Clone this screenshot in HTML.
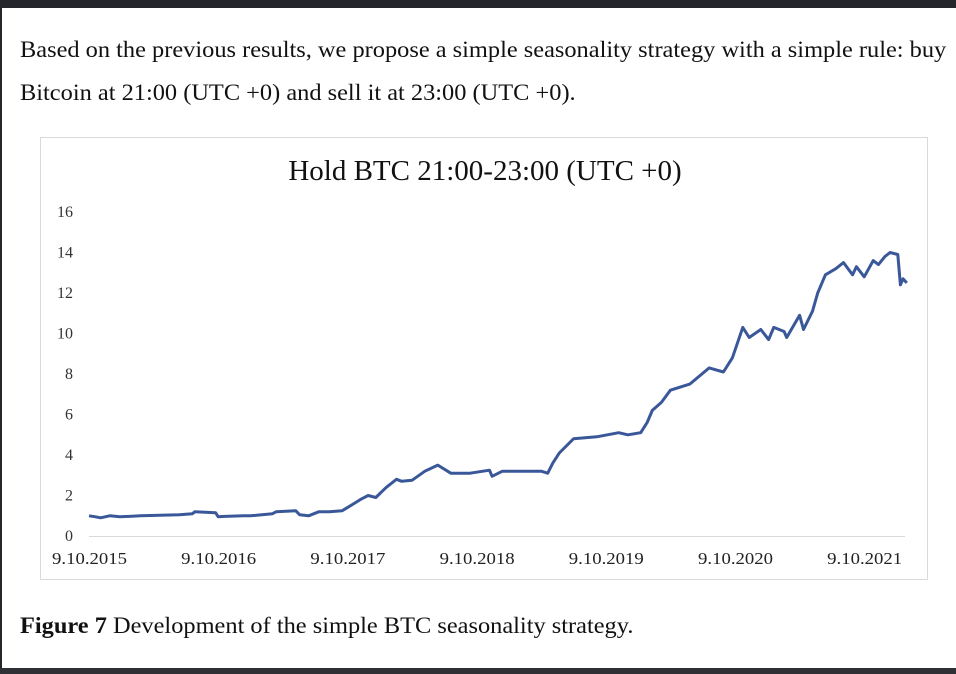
<!DOCTYPE html>
<html><head><meta charset="utf-8"><style>
body{margin:0;width:956px;height:674px;background:#fff;position:relative;overflow:hidden;font-family:"Liberation Serif",serif;color:#111}
.top{position:absolute;left:0;top:0;width:956px;height:8px;background:#24262b}
.bot{position:absolute;left:0;top:668px;width:956px;height:6px;background:#2e3035}
.leftb{position:absolute;left:0;top:0;width:2px;height:674px;background:#24262b}
.p{position:absolute;left:20px;font-size:23px;white-space:nowrap;transform-origin:0 0;transform:scaleX(1.06)}
</style></head><body>
<div class="top"></div>
<div class="leftb"></div>
<div class="p" style="top:37px">Based on the previous results, we propose a simple seasonality strategy with a simple rule: buy</div>
<div class="p" style="top:80px">Bitcoin at 21:00 (UTC +0) and sell it at 23:00 (UTC +0).</div>
<svg style="position:absolute;left:0;top:0" width="956" height="674">
<rect x="40.5" y="137.5" width="887" height="442" fill="#fff" stroke="#d9d9d9"/>
<text x="485" y="180" text-anchor="middle" font-size="29" font-family="Liberation Serif, serif" fill="#111">Hold BTC 21:00-23:00 (UTC +0)</text>
<g id="axes"></g><path id="line" fill="none" stroke="#3a5899" stroke-width="3" stroke-linejoin="round"/>
</svg>
<div class="p" style="top:613px"><b>Figure 7</b> Development of the simple BTC seasonality strategy.</div>
<div class="bot"></div>
<script>
const yTicks=[0,2,4,6,8,10,12,14,16];
const xLabels=["9.10.2015","9.10.2016","9.10.2017","9.10.2018","9.10.2019","9.10.2020","9.10.2021"];
const years=[0,0.05,0.09,0.16,0.24,0.4,0.7,0.8,0.82,0.98,1.0,1.05,1.2,1.25,1.42,1.45,1.6,1.63,1.7,1.78,1.86,1.96,2.0,2.05,2.1,2.16,2.22,2.3,2.38,2.42,2.5,2.6,2.7,2.8,2.95,3.1,3.12,3.2,3.5,3.55,3.59,3.64,3.75,3.93,4.1,4.17,4.27,4.32,4.36,4.43,4.5,4.65,4.8,4.91,4.98,5.06,5.11,5.2,5.26,5.3,5.38,5.4,5.5,5.53,5.6,5.64,5.7,5.78,5.84,5.91,5.94,6.0,6.07,6.11,6.16,6.2,6.26,6.28,6.3,6.33];
const values=[1.0,0.95,0.9,1.0,0.95,1.0,1.05,1.1,1.2,1.15,0.95,0.97,1.0,1.0,1.1,1.2,1.25,1.05,1.0,1.2,1.2,1.25,1.4,1.6,1.8,2.0,1.9,2.4,2.8,2.7,2.75,3.2,3.5,3.1,3.1,3.25,2.95,3.2,3.2,3.1,3.6,4.1,4.8,4.9,5.1,5.0,5.1,5.6,6.2,6.6,7.2,7.5,8.3,8.1,8.8,10.3,9.8,10.2,9.7,10.3,10.1,9.8,10.9,10.2,11.1,12.0,12.9,13.2,13.5,12.9,13.3,12.8,13.6,13.4,13.8,14.0,13.9,12.4,12.7,12.5];
const X=t=>89+t*129.2, Y=v=>536-v*20.25;
const g=document.getElementById('axes'),NS="http://www.w3.org/2000/svg";
const ax=document.createElementNS(NS,'line');


ax.setAttribute('x1',89);ax.setAttribute('x2',905);ax.setAttribute('y1',536.5);ax.setAttribute('y2',536.5);ax.setAttribute('stroke','#d9d9d9');g.appendChild(ax);
yTicks.forEach(v=>{const t=document.createElementNS(NS,'text');


t.setAttribute('x',73);t.setAttribute('y',Y(v)+5);t.setAttribute('text-anchor','end');t.setAttribute('font-size','16');t.setAttribute('fill','#333');t.textContent=v;g.appendChild(t);});
xLabels.forEach((s,i)=>{const t=document.createElementNS(NS,'text');


t.setAttribute('x',X(i)+0.5);t.setAttribute('y',564);t.setAttribute('text-anchor','middle');t.setAttribute('font-size','17');t.setAttribute('textLength','75');t.setAttribute('lengthAdjust','spacingAndGlyphs');t.setAttribute('fill','#222');t.textContent=s;g.appendChild(t);});
document.getElementById('line').setAttribute('d',years.map((t,i)=>(i?'L':'M')+X(t).toFixed(1)+' '+Y(values[i]).toFixed(1)).join(' '));
</script>
</body></html>
